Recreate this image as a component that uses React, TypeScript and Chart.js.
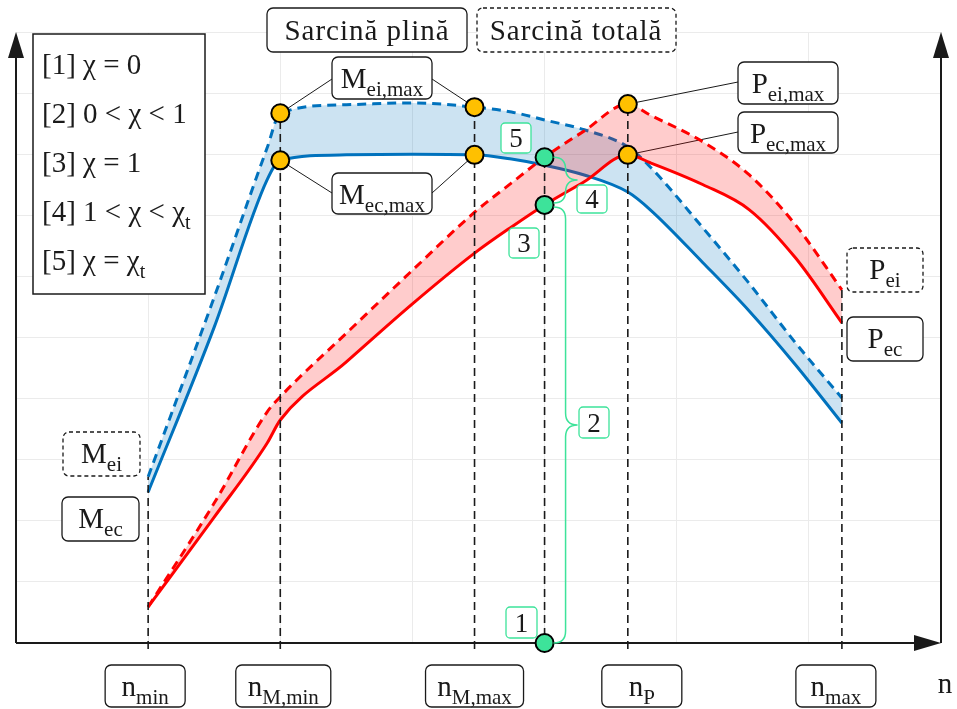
import { useEffect, useRef } from "react";
import { Chart, registerables } from "chart.js";
Chart.register(...registerables);

// ---- data (arbitrary units) ----
const nSpeed = [1.0, 1.5, 1.9, 2.0, 2.5, 3.0, 3.47, 3.75, 4.0, 4.3, 4.63, 4.8, 5.2, 5.55, 5.9, 6.25];
const torqueEi = [2.72, 5.66, 8.1, 8.67, 8.81, 8.84, 8.77, 8.69, 8.56, 8.4, 8.12, 7.79, 6.79, 5.88, 4.91, 4.01];
const torqueEc = [2.47, 5.17, 7.58, 7.9, 7.99, 8.0, 7.99, 7.92, 7.82, 7.66, 7.38, 7.09, 6.22, 5.43, 4.55, 3.6];
const powerEi = [0.59, 2.29, 3.78, 4.03, 5.07, 6.1, 7.05, 7.53, 7.95, 8.38, 8.82, 8.64, 8.2, 7.66, 6.84, 5.78];
const powerEc = [0.59, 2.06, 3.27, 3.65, 4.6, 5.55, 6.38, 6.81, 7.17, 7.55, 7.99, 7.86, 7.5, 7.09, 6.3, 5.24];

const nMin = 1.0;
const nMmin = 2.0;
const nMmax = 3.47;
const nChi = 4.0;
const nP = 4.63;
const nMax = 6.25;

const speedKeys = [nMin, nMmin, nMmax, nP, nMax];
const speedSubs = ["min", "M,min", "M,max", "P", "max"];
const legendMain = ["[1] χ = 0", "[2] 0 < χ < 1", "[3] χ = 1", "[4] 1 < χ < χ", "[5] χ = χ"];
const legendSub = ["", "", "", "t", "t"];
const greenNumbers = ["1", "2", "3", "4", "5"];
const titleFull = "Sarcină plină";
const titleTotal = "Sarcină totală";

const at = (arr: number[], n: number) => arr[nSpeed.indexOf(n)];

const FONT = '"Liberation Serif", "DejaVu Serif", serif';
const BLUE = "#0072BD";
const RED = "#FF0000";
const YELLOW = "#FFC000";
const GREEN = "#3DE39A";
const INK = "#1a1a1a";

function box(ctx: CanvasRenderingContext2D, x: number, y: number, w: number, h: number, opt: { dashed?: boolean; color?: string; r?: number } = {}) {
  ctx.save();
  ctx.beginPath();
  ctx.roundRect(x, y, w, h, opt.r ?? 6);
  ctx.fillStyle = "#fff";
  ctx.fill();
  ctx.lineWidth = 1.3;
  ctx.strokeStyle = opt.color ?? INK;
  ctx.setLineDash(opt.dashed ? [4, 3] : []);
  ctx.stroke();
  ctx.restore();
}

function subText(ctx: CanvasRenderingContext2D, cx: number, base: number, main: string, sub: string, size: number, subSize: number, align: "center" | "left" = "center") {
  ctx.save();
  ctx.fillStyle = INK;
  ctx.textBaseline = "alphabetic";
  ctx.textAlign = "left";
  ctx.font = `${size}px ${FONT}`;
  const w1 = ctx.measureText(main).width;
  ctx.font = `${subSize}px ${FONT}`;
  const w2 = sub ? ctx.measureText(sub).width : 0;
  const x = align === "center" ? cx - (w1 + w2) / 2 : cx;
  ctx.font = `${size}px ${FONT}`;
  ctx.fillText(main, x, base);
  if (sub) {
    ctx.font = `${subSize}px ${FONT}`;
    ctx.fillText(sub, x + w1, base + 8);
  }
  ctx.restore();
}

function labelBox(ctx: CanvasRenderingContext2D, x: number, y: number, w: number, h: number, main: string, sub: string, dashed = false) {
  box(ctx, x, y, w, h, { dashed });
  subText(ctx, x + w / 2, y + 31, main, sub, 29, 21);
}

function greenBox(ctx: CanvasRenderingContext2D, x: number, y: number, w: number, h: number, t: string) {
  box(ctx, x, y, w, h, { color: GREEN, r: 4 });
  ctx.save();
  ctx.fillStyle = INK;
  ctx.font = `27px ${FONT}`;
  ctx.textAlign = "center";
  ctx.textBaseline = "alphabetic";
  ctx.fillText(t, x + w / 2, y + h / 2 + 9);
  ctx.restore();
}

function brace(ctx: CanvasRenderingContext2D, x0: number, y1: number, y2: number, r: number) {
  const ym = (y1 + y2) / 2;
  ctx.save();
  ctx.strokeStyle = GREEN;
  ctx.lineWidth = 1.5;
  ctx.beginPath();
  ctx.moveTo(x0, y1);
  ctx.quadraticCurveTo(x0 + r, y1, x0 + r, y1 + r);
  ctx.lineTo(x0 + r, ym - r);
  ctx.quadraticCurveTo(x0 + r, ym, x0 + 2 * r, ym);
  ctx.quadraticCurveTo(x0 + r, ym, x0 + r, ym + r);
  ctx.lineTo(x0 + r, y2 - r);
  ctx.quadraticCurveTo(x0 + r, y2, x0, y2);
  ctx.stroke();
  ctx.restore();
}

const overlay = {
  id: "overlay",
  beforeDatasetsDraw(chart: any) {
    const ctx: CanvasRenderingContext2D = chart.ctx;
    const { left, right, top, bottom } = chart.chartArea;
    const X = (n: number) => chart.scales.x.getPixelForValue(n);
    const Y = (v: number) => chart.scales.y.getPixelForValue(v);
    ctx.save();
    // axes
    ctx.strokeStyle = INK;
    ctx.fillStyle = INK;
    ctx.lineWidth = 2;
    ctx.beginPath();
    ctx.moveTo(left, bottom);
    ctx.lineTo(left, top + 20);
    ctx.moveTo(left, bottom);
    ctx.lineTo(right - 20, bottom);
    ctx.moveTo(right, bottom);
    ctx.lineTo(right, top + 20);
    ctx.stroke();
    const arrowUp = (x: number) => {
      ctx.beginPath();
      ctx.moveTo(x, top);
      ctx.lineTo(x - 8, top + 26);
      ctx.lineTo(x + 8, top + 26);
      ctx.closePath();
      ctx.fill();
    };
    arrowUp(left);
    arrowUp(right);
    ctx.beginPath();
    ctx.moveTo(right, bottom);
    ctx.lineTo(right - 27, bottom - 8);
    ctx.lineTo(right - 27, bottom + 8);
    ctx.closePath();
    ctx.fill();
    // connectors
    ctx.lineWidth = 1;
    ctx.beginPath();
    ctx.moveTo(332, 79); ctx.lineTo(X(nMmin), Y(at(torqueEi, nMmin)));
    ctx.moveTo(432, 79); ctx.lineTo(X(nMmax), Y(at(torqueEi, nMmax)));
    ctx.moveTo(332, 193); ctx.lineTo(X(nMmin), Y(at(torqueEc, nMmin)));
    ctx.moveTo(432, 193); ctx.lineTo(X(nMmax), Y(at(torqueEc, nMmax)));
    ctx.moveTo(738, 82); ctx.lineTo(X(nP), Y(at(powerEi, nP)));
    ctx.moveTo(738, 132); ctx.lineTo(X(nP), Y(at(powerEc, nP)));
    ctx.stroke();
    ctx.restore();
  },
  afterDatasetsDraw(chart: any) {
    const ctx: CanvasRenderingContext2D = chart.ctx;
    const X = (n: number) => chart.scales.x.getPixelForValue(n);
    const Y = (v: number) => chart.scales.y.getPixelForValue(v);

    // legend of chi cases
    ctx.save();
    ctx.strokeStyle = INK;
    ctx.lineWidth = 1.5;
    ctx.fillStyle = "#fff";
    ctx.fillRect(33, 34, 172, 260);
    ctx.strokeRect(33, 34, 172, 260);
    ctx.restore();
    legendMain.forEach((t, i) => subText(ctx, 42, 74 + i * 49, t, legendSub[i], 29, 20, "left"));

    // titles
    box(ctx, 267, 8, 200, 44);
    box(ctx, 477, 8, 199, 44, { dashed: true });
    ctx.save();
    ctx.fillStyle = INK;
    ctx.font = `29px ${FONT}`;
    ctx.textAlign = "center";
    (ctx as any).letterSpacing = "1px";
    ctx.fillText(titleFull, 367, 40);
    ctx.fillText(titleTotal, 576, 40);
    ctx.restore();

    // curve labels
    labelBox(ctx, 332, 57, 100, 42, "M", "ei,max");
    labelBox(ctx, 332, 173, 100, 41, "M", "ec,max");
    labelBox(ctx, 738, 62, 100, 42, "P", "ei,max");
    labelBox(ctx, 738, 112, 100, 41, "P", "ec,max");
    labelBox(ctx, 847, 248, 76, 44, "P", "ei", true);
    labelBox(ctx, 847, 317, 76, 44, "P", "ec");
    labelBox(ctx, 63, 432, 77, 44, "M", "ei", true);
    labelBox(ctx, 62, 497, 77, 44, "M", "ec");

    // speed labels
    const widths = [80, 95, 98, 80, 80];
    const offs = [-3, 3, 0, 14, -6];
    speedKeys.forEach((n, i) => {
      const cx = X(n) + offs[i];
      labelBox(ctx, cx - widths[i] / 2, 665, widths[i], 42, "n", speedSubs[i]);
    });
    subText(ctx, 945, 693, "n", "", 29, 20);

    // braces and green numbers
    const xc = X(nChi) + 9;
    const yTop = Y(at(powerEi, nChi));
    const yMid = Y(at(powerEc, nChi));
    const yBot = Y(0);
    brace(ctx, xc, yTop, yMid - 2, 12);
    brace(ctx, xc, yMid + 2, yBot, 12);
    greenBox(ctx, 506, 607, 31, 31, greenNumbers[0]);
    greenBox(ctx, 579, 407, 30, 31, greenNumbers[1]);
    greenBox(ctx, 509, 228, 30, 30, greenNumbers[2]);
    greenBox(ctx, 577, 185, 30, 28, greenNumbers[3]);
    greenBox(ctx, 501, 123, 30, 30, greenNumbers[4]);
  },
};

const curve = (vals: number[], color: string, dashed: boolean, fill: any, bg?: string) => ({
  data: nSpeed.map((n, i) => ({ x: n, y: vals[i] })),
  borderColor: color,
  borderWidth: 3,
  borderDash: dashed ? [9, 6] : [],
  pointRadius: 0,
  cubicInterpolationMode: "monotone" as const,
  fill,
  backgroundColor: bg ?? "transparent",
});

const vline = (n: number, top: number) => ({
  data: [
    { x: n, y: -0.1 },
    { x: n, y: top },
  ],
  borderColor: INK,
  borderWidth: 1.6,
  borderDash: [8, 5],
  pointRadius: 0,
  fill: false,
  clip: false as const,
});

export default function App() {
  const ref = useRef<HTMLCanvasElement>(null);
  useEffect(() => {
    const yellowPts = [
      { x: nMmin, y: at(torqueEi, nMmin) },
      { x: nMmin, y: at(torqueEc, nMmin) },
      { x: nMmax, y: at(torqueEi, nMmax) },
      { x: nMmax, y: at(torqueEc, nMmax) },
      { x: nP, y: at(powerEi, nP) },
      { x: nP, y: at(powerEc, nP) },
    ];
    const greenPts = [
      { x: nChi, y: at(powerEi, nChi) },
      { x: nChi, y: at(powerEc, nChi) },
      { x: nChi, y: 0 },
    ];
    const allMax = (n: number) => Math.max(at(torqueEi, n), at(torqueEc, n), at(powerEi, n), at(powerEc, n));
    const chart = new Chart(ref.current!, {
      type: "line",
      data: {
        datasets: [
          { data: yellowPts, showLine: false, pointRadius: 9, pointBackgroundColor: YELLOW, pointBorderColor: "#000", pointBorderWidth: 2, clip: false },
          { data: greenPts, showLine: false, pointRadius: 9, pointBackgroundColor: GREEN, pointBorderColor: "#000", pointBorderWidth: 2, clip: false },
          vline(nMin, allMax(nMin)),
          vline(nMmin, allMax(nMmin)),
          vline(nMmax, allMax(nMmax)),
          vline(nChi, at(powerEi, nChi)),
          vline(nP, allMax(nP)),
          vline(nMax, allMax(nMax)),
          curve(powerEi, RED, true, false),
          curve(powerEc, RED, false, "-1", "rgba(255,0,0,0.2)"),
          curve(torqueEi, BLUE, true, false),
          curve(torqueEc, BLUE, false, "-1", "rgba(0,114,189,0.2)"),
        ] as any,
      },
      options: {
        animation: false,
        responsive: false,
        devicePixelRatio: 1,
        events: [],
        layout: { padding: { left: 16, right: 16, top: 32, bottom: 66 } },
        plugins: { legend: { display: false }, tooltip: { enabled: false } },
        scales: {
          x: {
            type: "linear",
            min: 0,
            max: 7,
            ticks: { display: false, stepSize: 1 },
            grid: { color: "#EBEBEB", drawTicks: false, lineWidth: 1 },
            border: { display: false },
          },
          y: {
            type: "linear",
            min: 0,
            max: 10,
            ticks: { display: false, stepSize: 1 },
            grid: { color: "#EBEBEB", drawTicks: false, lineWidth: 1 },
            border: { display: false },
          },
        },
      },
      plugins: [overlay],
    });
    return () => chart.destroy();
  }, []);
  return (
    <div style={{ position: "fixed", left: 0, top: 0, width: 957, height: 709, background: "#fff" }}>
      <canvas ref={ref} width={957} height={709} style={{ display: "block" }} />
    </div>
  );
}
